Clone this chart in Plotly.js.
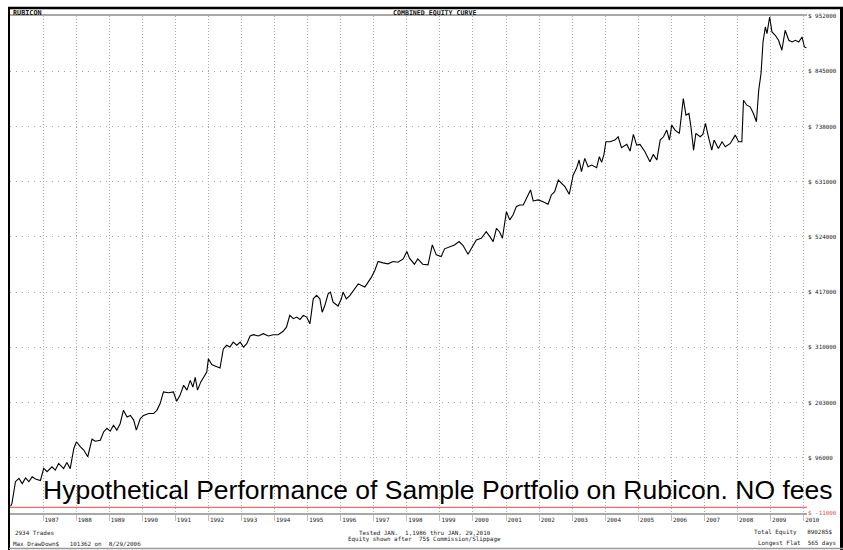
<!DOCTYPE html>
<html>
<head>
<meta charset="utf-8">
<script src="https://cdn.plot.ly/plotly-3.0.1.min.js"></script>
<style>
  html, body { margin: 0; padding: 0; background: #fff; }
  #chart { width: 843px; height: 550px; }
</style>
</head>
<body>
<div id="chart"></div>
<script>
// ---- Data (decimal year, equity $) ----
var years = [
  1986.02,1986.06,1986.165,1986.27,1986.37,1986.47,1986.57,1986.67,1986.77,1986.92,
  1987.02,1987.12,1987.27,1987.37,1987.47,1987.62,1987.72,1987.82,1987.93,
  1988.01,1988.13,1988.23,1988.35,1988.48,1988.58,1988.73,1988.83,1988.93,
  1989.03,1989.13,1989.23,1989.33,1989.43,1989.54,1989.64,1989.74,1989.82,1989.94,
  1990.04,1990.19,1990.34,1990.44,1990.54,1990.64,1990.79,1990.94,
  1991.04,1991.14,1991.25,1991.35,1991.45,1991.53,1991.60,1991.67,1991.77,1991.85,1991.95,
  1992.00,1992.10,1992.20,1992.35,1992.45,1992.55,1992.65,1992.75,1992.86,1992.96,
  1993.06,1993.16,1993.26,1993.36,1993.51,1993.66,1993.81,1993.96,
  1994.11,1994.26,1994.36,1994.46,1994.57,1994.67,1994.77,1994.87,1994.97,
  1995.07,1995.17,1995.27,1995.37,1995.44,1995.52,1995.62,1995.69,1995.77,1995.92,
  1996.02,1996.07,1996.17,1996.28,1996.38,1996.53,1996.63,1996.73,1996.83,1996.93,
  1997.03,1997.13,1997.28,1997.43,1997.58,1997.73,1997.89,
  1998.00,1998.08,1998.23,1998.33,1998.48,1998.64,1998.77,1998.89,
  1999.04,1999.14,1999.29,1999.44,1999.58,1999.70,1999.85,1999.95,
  2000.10,2000.25,2000.40,2000.51,2000.61,2000.71,2000.81,2000.89,
  2001.01,2001.11,2001.21,2001.31,2001.41,2001.52,2001.62,2001.74,2001.82,2001.97,
  2002.12,2002.27,2002.37,2002.47,2002.58,2002.68,2002.78,2002.91,
  2003.03,2003.13,2003.21,2003.28,2003.38,2003.48,2003.59,2003.74,2003.82,2003.89,2003.96,
  2004.02,2004.14,2004.29,2004.39,2004.49,2004.65,2004.75,2004.85,2004.95,
  2005.05,2005.20,2005.35,2005.45,2005.56,2005.66,2005.76,2005.86,2005.94,
  2006.01,2006.11,2006.24,2006.36,2006.44,2006.53,2006.59,2006.67,2006.74,2006.87,2006.95,
  2007.03,2007.12,2007.22,2007.29,2007.42,2007.53,2007.63,2007.78,2007.93,
  2008.03,2008.13,2008.18,2008.28,2008.38,2008.48,2008.57,2008.64,2008.71,2008.77,2008.84,2008.89,2008.97,
  2009.04,2009.14,2009.24,2009.34,2009.44,2009.55,2009.65,2009.75,2009.85,2009.95,
  2010.02,2010.08
];
var equity = [
  2000,8000,49600,56000,46000,57000,49600,59000,55000,52000,
  75400,69000,78600,72000,85000,75000,87000,75000,114000,
  127000,117000,111000,98000,132000,128000,130000,146000,153000,
  147500,159000,149500,162000,188000,175000,178000,169000,149500,172000,
  178000,181700,181700,188000,201000,223600,222000,223600,
  205600,217000,236500,227000,246000,233000,252000,227000,243000,252000,262000,
  288000,276500,274000,270000,307000,314000,310600,320000,314000,320000,
  310600,317000,332000,334500,332000,336400,332000,334500,
  334500,341000,349000,372000,365500,368700,364000,372000,368700,
  355700,404000,410600,404000,378000,391000,413800,417000,397700,390000,
  404000,417000,404000,410600,420000,433000,430000,426700,436300,446000,
  458900,476300,473700,471800,476300,475000,481400,
  495600,482700,471100,481400,471100,469800,508500,489200,
  486000,500800,505300,508500,514900,507200,490500,502000,
  518200,521400,534300,524600,514900,540700,533000,521400,
  572900,556900,566500,582600,585900,585900,598800,614900,593600,595600,
  592300,587200,605200,611600,634200,627700,621300,606500,
  643900,656800,672900,650300,676100,660000,663200,658100,679300,668400,683800,
  708300,708300,711600,718000,696700,703200,690300,722500,701900,
  703200,689000,669700,683800,672900,711600,718000,730900,711600,
  740600,730900,724500,792100,759900,763100,737300,692200,724500,718000,722500,
  743800,718000,692200,711600,695400,708300,698700,705100,721200,
  708300,708300,788900,779200,776000,763100,747000,808300,840500,901700,930700,917800,950000,
  921100,914700,905000,885600,924300,905000,901700,905000,901700,911400,
  892100,890285
];

var yTickVals = [-11000, 96000, 203000, 310000, 417000, 524000, 631000, 738000, 845000, 952000];
var yTickText = ['<span style="color:#e05050">$ -11000</span>', '$ 96000', '$ 203000', '$ 310000',
  '$ 417000', '$ 524000', '$ 631000', '$ 738000', '$ 845000', '$ 952000'];
var xTickYears = [1987,1988,1989,1990,1991,1992,1993,1994,1995,1996,1997,1998,1999,
  2000,2001,2002,2003,2004,2005,2006,2007,2008,2009,2010];
var xTickText = xTickYears.map(String);

var chartTitle = 'COMBINED EQUITY CURVE';
var systemName = 'RUBICON';
var overlayText = 'Hypothetical Performance of Sample Portfolio on Rubicon. NO fees';
var footLeft1 = '2934 Trades';
var footLeft2 = 'Max DrawDown$   101362 on  8/29/2006';
var footMid1 = 'Tested JAN.  1,1986 thru JAN. 29,2010';
var footMid2 = 'Equity shown after  75$ Commission/Slippage';
var footRight1 = 'Total Equity   890285$';
var footRight2 = 'Longest Flat  565 days';

// ---- Layout helpers (pixel -> paper) ----
var L = 10, R = 807, T = 16, B = 513;
function px(x) { return (x - L) / (R - L); }
function py(y) { return (B - y) / (B - T); }
function nb(s) { return s.replace(/ /g, '\u00a0'); }

var mono = 'DejaVu Sans Mono, Liberation Mono, monospace';
var small = { family: mono, size: 5.9, color: '#222' };

var trace = {
  x: years, y: equity, type: 'scatter', mode: 'lines',
  line: { color: '#000', width: 1.1 }, hoverinfo: 'skip'
};

var layout = {
  width: 843, height: 550,
  margin: { l: L, r: 843 - R, t: T, b: 550 - B, pad: 0 },
  paper_bgcolor: '#fff', plot_bgcolor: '#fff',
  showlegend: false,
  xaxis: {
    range: [1986, 2010.1], tickmode: 'array', tickvals: xTickYears, ticktext: xTickText,
    showgrid: true, gridcolor: '#aaaaaa', griddash: '1px,2px', gridwidth: 1,
    zeroline: false, showline: true, mirror: true, linecolor: '#a8a8a8', linewidth: 2,
    ticks: 'outside', ticklen: 6, tickcolor: '#c0c0c0', tickwidth: 1,
    ticklabelposition: 'outside right', tickfont: small, fixedrange: true
  },
  yaxis: {
    range: [-11000, 952000], side: 'right', tickmode: 'array', tickvals: yTickVals, ticktext: yTickText,
    showgrid: true, gridcolor: '#aaaaaa', griddash: '1px,5px', gridwidth: 1,
    zeroline: false, showline: false, ticks: '', tickfont: small, fixedrange: true
  },
  shapes: [
    // zero equity line
    { type: 'line', xref: 'paper', yref: 'y', x0: 0, x1: 1, y0: 0, y1: 0,
      line: { color: '#ee6b6b', width: 1.2 } },
    // frame
    { type: 'line', xref: 'paper', yref: 'paper', x0: px(8), x1: px(843), y0: py(8), y1: py(8),
      line: { color: '#000', width: 2.5 } },
    { type: 'line', xref: 'paper', yref: 'paper', x0: px(9), x1: px(9), y0: py(7), y1: py(550),
      line: { color: '#000', width: 2 } },
    { type: 'line', xref: 'paper', yref: 'paper', x0: px(841.5), x1: px(841.5), y0: py(7), y1: py(550),
      line: { color: '#000', width: 3 } },
    { type: 'line', xref: 'paper', yref: 'paper', x0: px(9), x1: px(843), y0: py(548.5), y1: py(548.5),
      line: { color: '#999', width: 1.5 } }
  ],
  annotations: [
    { text: '<b>' + systemName + '</b>', xref: 'paper', yref: 'paper', x: px(11), y: py(12.5),
      xanchor: 'left', yanchor: 'middle', showarrow: false, font: { family: mono, size: 6.8, color: '#111' } },
    { text: '<b>' + nb(chartTitle) + '</b>', xref: 'paper', yref: 'paper', x: px(434.5), y: py(12.5),
      xanchor: 'center', yanchor: 'middle', showarrow: false, font: { family: mono, size: 6.6, color: '#111' } },
    { text: nb(overlayText), xref: 'paper', yref: 'paper', x: px(437.5), y: py(490),
      xanchor: 'center', yanchor: 'middle', showarrow: false,
      font: { family: 'Liberation Sans, Arial, sans-serif', size: 26.5, color: '#000' } },
    { text: nb(footLeft1), xref: 'paper', yref: 'paper', x: px(13), y: py(533),
      xanchor: 'left', yanchor: 'middle', showarrow: false, font: small },
    { text: nb(footLeft2), xref: 'paper', yref: 'paper', x: px(10.5), y: py(543.5),
      xanchor: 'left', yanchor: 'middle', showarrow: false, font: small },
    { text: nb(footMid1), xref: 'paper', yref: 'paper', x: px(424.5), y: py(532.5),
      xanchor: 'center', yanchor: 'middle', showarrow: false, font: small },
    { text: nb(footMid2), xref: 'paper', yref: 'paper', x: px(424.5), y: py(539.3),
      xanchor: 'center', yanchor: 'middle', showarrow: false, font: small },
    { text: nb(footRight1), xref: 'paper', yref: 'paper', x: px(834), y: py(532.7),
      xanchor: 'right', yanchor: 'middle', showarrow: false, font: small },
    { text: nb(footRight2), xref: 'paper', yref: 'paper', x: px(838), y: py(543.5),
      xanchor: 'right', yanchor: 'middle', showarrow: false, font: small }
  ]
};

Plotly.newPlot('chart', [trace], layout, { displayModeBar: false, staticPlot: true });
</script>
</body>
</html>
